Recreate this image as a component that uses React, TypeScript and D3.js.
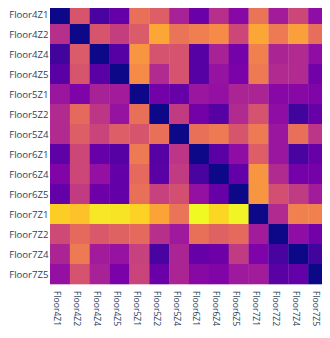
import React, { useEffect, useRef } from "react";
import * as d3 from "d3";

// zone names, same order on both axes
const zones = [
  "Floor4Z1", "Floor4Z2", "Floor4Z4", "Floor4Z5",
  "Floor5Z1", "Floor5Z2", "Floor5Z4",
  "Floor6Z1", "Floor6Z4", "Floor6Z5",
  "Floor7Z1", "Floor7Z2", "Floor7Z4", "Floor7Z5",
];

// matrix values (row = y zone, column = x zone)
const values = [
  [0, 0.55, 0.12, 0.18, 0.64, 0.58, 0.37, 0.2, 0.42, 0.28, 0.65, 0.35, 0.5, 0.3],
  [0.42, 0, 0.55, 0.47, 0.57, 0.8, 0.65, 0.68, 0.72, 0.5, 0.8, 0.67, 0.78, 0.63],
  [0.1, 0.57, 0, 0.15, 0.75, 0.54, 0.54, 0.15, 0.37, 0.23, 0.69, 0.38, 0.4, 0.3],
  [0.16, 0.55, 0.16, 0, 0.72, 0.4, 0.54, 0.15, 0.32, 0.24, 0.67, 0.4, 0.4, 0.22],
  [0.33, 0.25, 0.37, 0.35, 0, 0.22, 0.19, 0.33, 0.31, 0.38, 0.38, 0.28, 0.28, 0.26],
  [0.4, 0.62, 0.44, 0.32, 0.64, 0, 0.46, 0.22, 0.15, 0.4, 0.54, 0.3, 0.1, 0.19],
  [0.4, 0.58, 0.49, 0.58, 0.55, 0.64, 0, 0.64, 0.67, 0.55, 0.67, 0.33, 0.64, 0.44],
  [0.17, 0.5, 0.19, 0.15, 0.67, 0.15, 0.44, 0, 0.16, 0.3, 0.58, 0.33, 0.12, 0.19],
  [0.26, 0.5, 0.31, 0.18, 0.62, 0.16, 0.46, 0.12, 0, 0.18, 0.75, 0.4, 0.23, 0.23],
  [0.18, 0.46, 0.21, 0.18, 0.64, 0.48, 0.53, 0.31, 0.19, 0, 0.75, 0.53, 0.46, 0.35],
  [0.9, 0.87, 0.96, 0.95, 0.91, 0.79, 0.65, 1.0, 0.92, 0.99, 0, 0.4, 0.69, 0.69],
  [0.51, 0.62, 0.56, 0.59, 0.62, 0.42, 0.34, 0.64, 0.59, 0.62, 0.35, 0, 0.3, 0.22],
  [0.38, 0.67, 0.35, 0.32, 0.48, 0.12, 0.38, 0.19, 0.21, 0.46, 0.25, 0.12, 0, 0.1],
  [0.31, 0.54, 0.37, 0.24, 0.49, 0.2, 0.38, 0.28, 0.26, 0.34, 0.35, 0.16, 0.18, 0],
];

const Heatmap = () => {
  const svgRef = useRef<SVGSVGElement>(null);

  useEffect(() => {
    const width = 330;
    const height = 338;
    const left = 50;
    const right = 328;
    const top = 4;
    const bottom = 284;
    const textColor = "#2a3f5f";

    const x = d3.scaleBand().domain(zones).range([left, right]);
    const y = d3.scaleBand().domain(zones).range([top, bottom]);
    const color = d3.scaleSequential(d3.interpolatePlasma).domain([0, 1]);

    const svg = d3.select(svgRef.current)
      .attr("width", width)
      .attr("height", height)
      .style("display", "block");

    svg.selectAll("*").remove();

    svg.append("rect")
      .attr("width", width)
      .attr("height", height)
      .attr("fill", "#fff");

    const cells = values.flatMap((row, i) =>
      row.map((v, j) => ({ row: zones[i], col: zones[j], v }))
    );

    svg.append("g")
      .selectAll("rect")
      .data(cells)
      .join("rect")
        .attr("x", d => x(d.col)!)
        .attr("y", d => y(d.row)!)
        .attr("width", x.bandwidth() + 0.3)
        .attr("height", y.bandwidth() + 0.3)
        .attr("fill", d => color(d.v));

    // y tick labels
    svg.append("g")
      .selectAll("text")
      .data(zones)
      .join("text")
        .attr("x", left - 1.5)
        .attr("y", d => y(d)! + y.bandwidth() / 2)
        .attr("text-anchor", "end")
        .attr("dominant-baseline", "central")
        .attr("font-family", "Open Sans, sans-serif")
        .attr("font-size", 9.6)
        .attr("fill", textColor)
        .text(d => d);

    // x tick labels, turned 90 degrees
    svg.append("g")
      .selectAll("text")
      .data(zones)
      .join("text")
        .attr("transform", d => `translate(${x(d)! + x.bandwidth() / 2 - 2.5},${bottom + 7}) rotate(90)`)
        .attr("text-anchor", "start")
        .attr("dominant-baseline", "central")
        .attr("font-family", "Open Sans, sans-serif")
        .attr("font-size", 8.6)
        .attr("fill", textColor)
        .text(d => d);
  }, []);

  return <svg ref={svgRef}></svg>;
};

export default function App() {
  return (
    <div style={{ margin: -8 }}>
      <Heatmap />
    </div>
  );
}
